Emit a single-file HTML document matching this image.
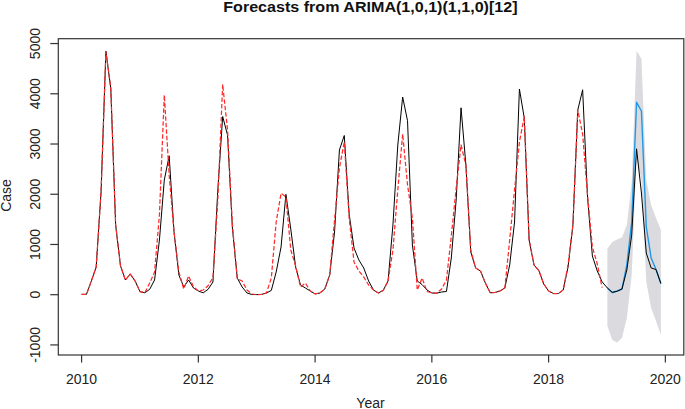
<!DOCTYPE html>
<html><head><meta charset="utf-8"><style>
html,body{margin:0;padding:0;background:#fff;}
svg{display:block;}
text{font-family:"Liberation Sans",sans-serif;font-size:14px;fill:#222;}
</style></head><body>
<svg width="685" height="409" viewBox="0 0 685 409">
<rect x="0" y="0" width="685" height="409" fill="#fff"/>
<text transform="translate(370.4,11.9) scale(1,0.9)" text-anchor="middle" style="font-weight:bold;font-size:16.1px;fill:#111">Forecasts from ARIMA(1,0,1)(1,1,0)[12]</text>
<polygon points="607.38,248.80 612.24,242.00 617.10,239.50 621.97,237.50 626.83,225.00 631.70,182.00 636.56,50.80 641.43,58.80 646.29,180.00 651.16,205.00 656.02,218.00 660.89,230.00 660.89,335.00 656.02,321.00 651.16,308.00 646.29,282.00 641.43,180.00 636.56,158.00 631.70,275.00 626.83,318.00 621.97,338.00 617.10,342.40 612.24,340.00 607.38,325.80" fill="#dbdbdf" stroke="none"/>
<polyline points="607.38,288.00 612.24,292.50 617.10,291.00 621.97,289.00 626.83,265.00 631.70,222.00 636.56,102.30 641.43,111.00 646.29,227.00 651.16,258.00 656.02,269.50 660.89,283.50" fill="none" stroke="#2297e6" stroke-width="1.4" stroke-linejoin="round"/>
<polyline points="81.60,294.40 86.46,294.40 91.33,281.00 96.19,267.00 101.06,192.00 105.92,51.30 110.79,88.40 115.65,225.00 120.52,266.00 125.38,280.00 130.25,274.00 135.11,281.00 139.97,291.60 144.84,292.80 149.70,289.30 154.57,280.00 159.43,240.00 164.30,180.00 169.16,155.80 174.03,232.00 178.89,275.00 183.76,287.00 188.62,280.00 193.49,288.00 198.35,291.00 203.21,292.80 208.08,289.30 212.94,282.00 217.81,190.00 222.67,116.50 227.54,135.00 232.40,228.00 237.27,278.00 242.13,287.00 247.00,293.00 251.86,294.50 256.73,294.60 261.59,294.40 266.45,293.00 271.32,290.40 276.18,272.00 281.05,247.00 285.91,194.40 290.78,229.00 295.64,267.00 300.51,285.00 305.37,288.00 310.24,291.00 315.10,293.90 319.96,293.00 324.83,289.00 329.69,275.00 334.56,232.00 339.42,150.00 344.29,135.50 349.15,214.00 354.02,248.00 358.88,260.00 363.75,268.00 368.61,281.00 373.48,290.00 378.34,293.00 383.20,290.40 388.07,281.00 392.93,225.00 397.80,145.00 402.66,97.00 407.53,120.70 412.39,245.00 417.26,281.00 422.12,284.60 426.99,290.00 431.85,293.00 436.71,293.20 441.58,292.00 446.44,291.50 451.31,258.00 456.17,200.00 461.04,107.80 465.90,165.00 470.77,252.00 475.63,268.00 480.50,271.00 485.36,283.00 490.23,292.80 495.09,292.50 499.95,291.00 504.82,288.00 509.68,265.00 514.55,222.00 519.41,89.00 524.28,118.00 529.14,240.00 534.01,265.00 538.87,270.60 543.74,284.00 548.60,291.00 553.46,293.50 558.33,293.50 563.19,290.00 568.06,267.00 572.92,225.00 577.79,110.00 582.65,89.80 587.52,197.00 592.38,256.00 597.25,271.00 602.11,281.80 607.38,288.00 612.24,292.40 617.10,291.30 621.97,289.00 626.83,270.00 631.70,235.00 636.56,148.80 641.43,193.00 646.29,253.00 651.16,268.00 656.02,269.50 660.89,283.50" fill="none" stroke="#000" stroke-width="1" stroke-linejoin="round"/>
<polyline points="81.60,294.40 86.46,294.40 91.33,281.00 96.19,267.00 101.06,192.00 105.92,51.30 110.79,88.40 115.65,225.00 120.52,266.00 125.38,280.00 130.25,274.00 135.11,281.00 139.97,291.60 144.84,292.80 149.70,283.00 154.57,272.00 159.43,215.00 164.30,95.10 169.16,175.00 174.03,232.00 178.89,272.00 183.76,289.00 188.62,276.00 193.49,287.00 198.35,291.00 203.21,290.00 208.08,285.70 212.94,277.60 217.81,200.00 222.67,84.40 227.54,130.00 232.40,225.00 237.27,278.70 242.13,281.00 247.00,290.00 251.86,294.00 256.73,294.60 261.59,294.40 266.45,293.00 271.32,278.00 276.18,222.00 281.05,193.20 285.91,197.00 290.78,250.00 295.64,266.00 300.51,287.00 305.37,283.00 310.24,291.00 315.10,293.90 319.96,293.00 324.83,289.00 329.69,275.00 334.56,220.00 339.42,168.00 344.29,142.00 349.15,218.00 354.02,262.00 358.88,271.00 363.75,277.00 368.61,285.00 373.48,290.00 378.34,293.00 383.20,290.40 388.07,281.00 392.93,250.00 397.80,190.00 402.66,134.00 407.53,185.00 412.39,218.00 417.26,290.00 422.12,278.00 426.99,291.50 431.85,293.00 436.71,293.20 441.58,289.00 446.44,280.00 451.31,236.00 456.17,188.00 461.04,145.00 465.90,165.00 470.77,250.00 475.63,268.00 480.50,271.00 485.36,283.00 490.23,292.80 495.09,292.50 499.95,291.00 504.82,288.00 509.68,240.00 514.55,190.00 519.41,142.00 524.28,116.70 529.14,240.00 534.01,265.00 538.87,270.60 543.74,284.00 548.60,291.00 553.46,293.50 558.33,293.50 563.19,290.00 568.06,265.00 572.92,225.00 577.79,110.00 582.65,134.00 587.52,195.00 592.38,247.00 597.25,264.00 602.11,287.60" fill="none" stroke="#ff2a2a" stroke-width="1.25" stroke-dasharray="4.4 2.1" stroke-linejoin="round"/>
<g stroke="#333" stroke-width="1.2" fill="none">
<rect x="58.3" y="38.7" width="625.5" height="316.3"/>
<line x1="50.3" y1="344.93" x2="58.3" y2="344.93"/><line x1="50.3" y1="294.70" x2="58.3" y2="294.70"/><line x1="50.3" y1="244.47" x2="58.3" y2="244.47"/><line x1="50.3" y1="194.24" x2="58.3" y2="194.24"/><line x1="50.3" y1="144.01" x2="58.3" y2="144.01"/><line x1="50.3" y1="93.78" x2="58.3" y2="93.78"/><line x1="50.3" y1="43.55" x2="58.3" y2="43.55"/><line x1="81.60" y1="355.0" x2="81.60" y2="362.6"/><line x1="198.35" y1="355.0" x2="198.35" y2="362.6"/><line x1="315.10" y1="355.0" x2="315.10" y2="362.6"/><line x1="431.85" y1="355.0" x2="431.85" y2="362.6"/><line x1="548.60" y1="355.0" x2="548.60" y2="362.6"/><line x1="665.35" y1="355.0" x2="665.35" y2="362.6"/>
</g>
<text transform="translate(39.8,344.93) rotate(-90)" text-anchor="middle">-1000</text><text transform="translate(39.8,294.70) rotate(-90)" text-anchor="middle">0</text><text transform="translate(39.8,244.47) rotate(-90)" text-anchor="middle">1000</text><text transform="translate(39.8,194.24) rotate(-90)" text-anchor="middle">2000</text><text transform="translate(39.8,144.01) rotate(-90)" text-anchor="middle">3000</text><text transform="translate(39.8,93.78) rotate(-90)" text-anchor="middle">4000</text><text transform="translate(39.8,43.55) rotate(-90)" text-anchor="middle">5000</text><text x="81.60" y="384" text-anchor="middle">2010</text><text x="198.35" y="384" text-anchor="middle">2012</text><text x="315.10" y="384" text-anchor="middle">2014</text><text x="431.85" y="384" text-anchor="middle">2016</text><text x="548.60" y="384" text-anchor="middle">2018</text><text x="665.35" y="384" text-anchor="middle">2020</text>
<text x="370.5" y="408" text-anchor="middle">Year</text>
<text transform="translate(10.8,195.5) rotate(-90)" text-anchor="middle">Case</text>
</svg>
</body></html>
